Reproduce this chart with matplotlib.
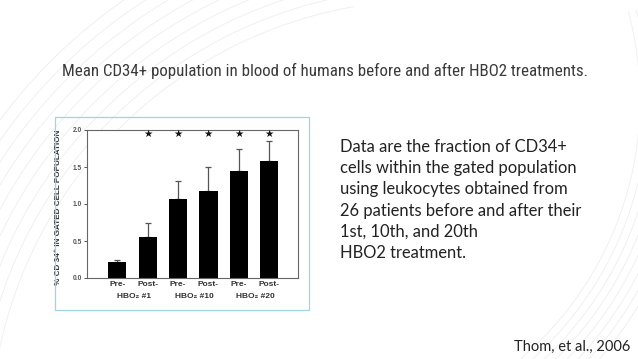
import matplotlib
matplotlib.use("Agg")
import matplotlib.pyplot as plt
import numpy as np
from matplotlib.patches import Rectangle
from matplotlib.transforms import blended_transform_factory

# data
groups = ["Pre-", "Post-", "Pre-", "Post-", "Pre-", "Post-"]
sessions = ["HBO\u2082 #1", "HBO\u2082 #10", "HBO\u2082 #20"]
means = [0.21, 0.55, 1.07, 1.18, 1.44, 1.58]
sem_upper = [0.04, 0.19, 0.24, 0.32, 0.31, 0.27]
significant = [False, True, True, True, True, True]
yticks = [0.0, 0.5, 1.0, 1.5, 2.0]

title = "Mean CD34+ population in blood of humans before and after HBO2 treatments."
body_lines = [
    "Data are the fraction of CD34+",
    "cells within the gated population",
    "using leukocytes obtained from",
    "26 patients before and after their",
    "1st, 10th, and 20th",
    "HBO2 treatment.",
]
citation = "Thom, et al., 2006"

W, H = 638, 359
fig = plt.figure(figsize=(W / 100, H / 100), dpi=100)
fig.patch.set_facecolor("white")


def fx(px):
    return px / W


def fy(py):
    return 1 - py / H


# faint template curves in the corners (pixel coords, y downwards)
bg = fig.add_axes([0, 0, 1, 1], zorder=-5)
bg.set_xlim(0, W)
bg.set_ylim(H, 0)
bg.axis("off")
t = np.radians(np.linspace(100, 185, 200))
for r in np.arange(440, 545, 12):
    bg.plot(430 + r * np.cos(t), 440 - r * np.sin(t), color="#eeeeee", lw=0.6)
t = np.radians(np.linspace(-70, 15, 200))
for r in np.arange(340, 400, 8):
    bg.plot(300 + r * np.cos(t), 100 - r * np.sin(t), color="#eeeeee", lw=0.6)

ttl = fig.text(fx(62), fy(76), title, ha="left", va="baseline", fontsize=11,
               color="#3a3a3a", family=["Roboto Condensed", "DejaVu Sans"],
               fontstretch="condensed")
# squeeze the title to the width it takes on the slide
fig.canvas.draw()
w = ttl.get_window_extent().width
ttl.set_fontsize(11 * 526 / w)

# light-blue frame round the pasted figure
fig.patches.append(Rectangle((fx(55), fy(310)), fx(309) - fx(55), fy(117) - fy(310),
                             transform=fig.transFigure, fill=False,
                             edgecolor="#9ed4e4", lw=0.9))

ax = fig.add_axes([fx(87), fy(278), fx(298) - fx(87), fy(130) - fy(278)])
ax.set_facecolor("white")
x = np.arange(len(means))
ax.bar(x, means, width=0.6, color="black", zorder=2)
ax.errorbar(x, means, yerr=[np.zeros(len(means)), sem_upper], fmt="none",
            ecolor="#555555", elinewidth=0.9, capsize=2.5, capthick=0.9, zorder=1)
for xi, sig in zip(x, significant):
    if sig:
        ax.text(xi, 1.945, "\u2605", ha="center", va="center", fontsize=7.5,
                family="DejaVu Sans", color="#111111")

ax.set_xlim(-1.0, 5.95)
ax.set_ylim(0, 2.0)
ax.set_yticks(yticks)
ax.set_yticklabels([f"{v:.1f}" for v in yticks], fontsize=4.8, fontweight="bold",
                   family=["Liberation Sans", "DejaVu Sans"], color="#333333")
ax.set_xticks([])
ax.tick_params(axis="y", length=2.2, width=0.7, pad=1.5, colors="#555555")
for sp in ax.spines.values():
    sp.set_color("#666666")
    sp.set_linewidth(0.8)

tr = blended_transform_factory(ax.transData, ax.transAxes)
for xi, g in zip(x, groups):
    ax.text(xi, -0.047, g, transform=tr, ha="center", va="center", fontsize=6,
            fontweight="bold", family=["Liberation Sans", "DejaVu Sans"], color="#333333")
for i, s in enumerate(sessions):
    ax.text(2 * i + 0.55, -0.122, s, transform=tr, ha="center", va="center",
            fontsize=6, fontweight="bold",
            family=["Liberation Sans", "DejaVu Sans"], color="#333333")

ax.set_ylabel("% CD 34\u207a IN GATED CELL POPULATION", fontsize=5.9,
              fontweight="bold", family=["Liberation Sans", "DejaVu Sans"],
              color="#333333")
ax.yaxis.set_label_coords(-0.12, 0.48)

for i, line in enumerate(body_lines):
    fig.text(fx(340), fy(152 + 21.2 * i), line, ha="left", va="baseline",
             fontsize=11.9, color="#222222", family=["Lato", "DejaVu Sans"])

fig.text(fx(630), fy(351), citation, ha="right", va="baseline", fontsize=10.5,
         color="#222222", family=["Lato", "DejaVu Sans"])

fig.savefig("out.png", dpi=100, facecolor="white")
